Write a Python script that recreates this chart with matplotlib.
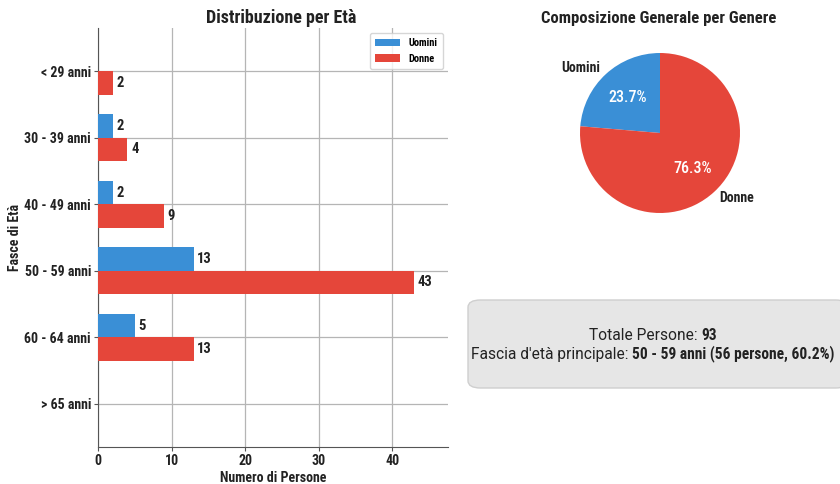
import numpy as np
import matplotlib
matplotlib.use("Agg")
import matplotlib.pyplot as plt
from matplotlib import font_manager as fm
from matplotlib.patches import FancyBboxPatch

# font: condensed Roboto if present, else plain Roboto
names = {f.name for f in fm.fontManager.ttflist}
fam = 'Roboto Condensed' if 'Roboto Condensed' in names else 'Roboto'
plt.rcParams['font.family'] = [fam, 'DejaVu Sans']

# data
fasce = ['< 29 anni', '30 - 39 anni', '40 - 49 anni', '50 - 59 anni', '60 - 64 anni', '> 65 anni']
uomini = [0, 2, 2, 13, 5, 0]
donne = [2, 4, 9, 43, 13, 0]
generi = ['Uomini', 'Donne']

blu = '#3a8fd6'
rosso = '#e5463a'

W, H = 840, 484
fig = plt.figure(figsize=(W / 100, H / 100), dpi=100)

# ---- bar chart ----
ax = fig.add_axes([98 / W, 1 - 447 / H, 350 / W, 419 / H])
y = np.arange(len(fasce))
h = 0.35
b1 = ax.barh(y - h / 2, uomini, height=h, color=blu, label='Uomini', zorder=3)
b2 = ax.barh(y + h / 2, donne, height=h, color=rosso, label='Donne', zorder=3)
for bars, vals in ((b1, uomini), (b2, donne)):
    for r, v in zip(bars, vals):
        if v > 0:
            ax.text(v + 0.5, r.get_y() + r.get_height() / 2, str(v), va='center', ha='left',
                    fontsize=10.5, fontweight='bold', color='#222222')
ax.set_yticks(y)
ax.set_yticklabels(fasce, fontsize=10, fontweight='bold')
ax.set_ylim(5.65, -0.65)
ax.set_xlim(0, 47.6)
ax.set_xticks([0, 10, 20, 30, 40])
for t in ax.get_xticklabels():
    t.set_fontweight('bold')
    t.set_fontsize(10)
ax.grid(True, color='#b5b5b5', linewidth=0.9, zorder=0)
ax.set_axisbelow(True)
for s in ('top', 'right'):
    ax.spines[s].set_visible(False)
for s in ('left', 'bottom'):
    ax.spines[s].set_color('#555555')
ax.tick_params(colors='#555555', labelcolor='#222222', length=3, pad=2)
ax.set_xlabel('Numero di Persone', fontsize=10, fontweight='bold', color='#222222', labelpad=2)
ax.set_ylabel('Fasce di Età', fontsize=10, fontweight='bold', color='#222222', labelpad=2)
leg = ax.legend(loc='upper right', prop={'weight': 'bold', 'size': 7.5}, frameon=True,
                handlelength=2.4, borderpad=0.5)
fig.text(281 / W, 1 - 18 / H, 'Distribuzione per Età', ha='center', va='center',
         fontsize=13, fontweight='bold', color='#222222')

# ---- pie ----
axp = fig.add_axes([560 / W, 1 - 233 / H, 200 / W, 200 / H])
tot = [sum(uomini), sum(donne)]
wedges, labs, pcts = axp.pie(tot, labels=generi, colors=[blu, rosso], autopct='%1.1f%%',
                             startangle=90, textprops={'fontsize': 10, 'fontweight': 'bold',
                                                       'color': '#222222'})
for p in pcts:
    p.set_color('white')
    p.set_fontweight('medium')
    p.set_fontsize(11.5)
fig.text(659 / W, 1 - 18 / H, 'Composizione Generale per Genere', ha='center', va='center',
         fontsize=12, fontweight='bold', color='#222222')

# ---- summary box ----
box = FancyBboxPatch((468 / W, 1 - 388 / H), 380 / W, 88 / H,
                     boxstyle='round,pad=0,rounding_size=0.015', transform=fig.transFigure,
                     facecolor='#e6e6e6', edgecolor='#cfcfcf', linewidth=1)
fig.patches.append(box)

top_n = max(range(len(fasce)), key=lambda i: uomini[i] + donne[i])
n_top = uomini[top_n] + donne[top_n]
righe = [
    [('Totale Persone: ', 'normal', 'Roboto'), (str(sum(tot)), 'bold', fam)],
    [("Fascia d'età principale: ", 'normal', 'Roboto'),
     ('%s (%d persone, %.1f%%)' % (fasce[top_n], n_top, 100 * n_top / sum(tot)), 'bold', fam)],
]
r = fig.canvas.get_renderer()
for k, riga in enumerate(righe):
    ypos = 1 - (336 + 18 * k) / H
    parts = [fig.text(0, ypos, s, fontsize=11.2, fontweight=w, family=[f, 'DejaVu Sans'],
                      color='#222222', va='center')
             for s, w, f in riga]
    widths = [p.get_window_extent(r).width for p in parts]
    x0 = 653 - sum(widths) / 2
    for p, wd in zip(parts, widths):
        p.set_x(x0 / W)
        x0 += wd

fig.savefig('out.png', dpi=100)
